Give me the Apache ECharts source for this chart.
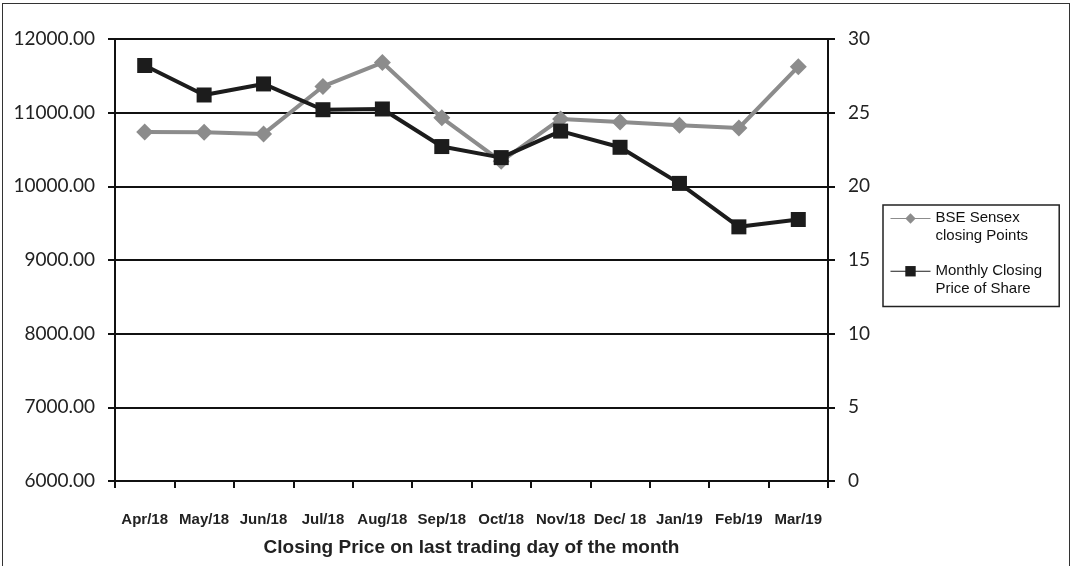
<!DOCTYPE html>
<html>
<head>
<meta charset="utf-8">
<script src="https://cdn.jsdelivr.net/npm/echarts@6/dist/echarts.min.js"></script>
<style>
html,body{margin:0;padding:0;background:#fff;}
#frame{position:absolute;left:2px;top:3px;width:1068px;height:600px;border:1.5px solid #333;box-sizing:border-box;}
#chart{position:absolute;left:0;top:0;width:1075px;height:566px;}
</style>
</head>
<body>
<div id="frame"></div>
<div id="chart"></div>
<script>
const months = ['Apr/18','May/18','Jun/18','Jul/18','Aug/18','Sep/18','Oct/18','Nov/18','Dec/ 18','Jan/19','Feb/19','Mar/19'];
const sensex = [10737, 10735, 10712, 11356, 11680, 10930, 10340, 10915, 10872, 10830, 10792, 11625];
const sharePrice = [28.2, 26.2, 26.95, 25.2, 25.25, 22.7, 21.95, 23.75, 22.65, 20.2, 17.25, 17.75];
const leftTicks = {min: 6000, max: 12000, interval: 1000};
const rightTicks = {min: 0, max: 30, interval: 5};
const sensexName = 'BSE Sensex closing Points';
const shareName = 'Monthly Closing Price of Share';
const legendLines = {};
legendLines[sensexName] = ['BSE Sensex', 'closing Points'];
legendLines[shareName] = ['Monthly Closing', 'Price of Share'];

const chart = echarts.init(document.getElementById('chart'));
chart.setOption({
  animation: false,
  backgroundColor: 'transparent',
  grid: {left: 115, right: 247, top: 39, bottom: 85},
  legend: {
    orient: 'vertical',
    left: 883, top: 205,
    padding: [-12.5, 17, 10.5, 7],
    borderColor: '#222', borderWidth: 1.5,
    itemWidth: 40, itemHeight: 13, itemGap: 2,
    lineStyle: {width: 1},
    textStyle: {
      fontFamily: 'Liberation Sans, Arial', fontSize: 15, color: '#111',
      rich: {
        e: {fontSize: 15, lineHeight: 17, height: 17},
        t: {fontFamily: 'Liberation Sans, Arial', fontSize: 15, color: '#111', lineHeight: 17.5}
      }
    },
    formatter: function (n) {
      const l = legendLines[n];
      return '{e| }\n{t|' + l[0] + '}\n{t|' + l[1] + '}';
    },
    data: [sensexName, shareName]
  },
  xAxis: {
    type: 'category',
    data: months,
    boundaryGap: true,
    axisLine: {lineStyle: {color: '#111', width: 2}},
    axisTick: {show: true, length: 7, lineStyle: {color: '#111', width: 2}},
    axisLabel: {margin: 31, fontFamily: 'Liberation Sans, Arial', fontWeight: 'bold', fontSize: 15, color: '#222', interval: 0},
    name: 'Closing Price on last trading day of the month',
    nameLocation: 'middle',
    nameGap: 57,
    nameTextStyle: {fontFamily: 'Liberation Sans, Arial', fontWeight: 'bold', fontSize: 19, color: '#222'}
  },
  yAxis: [
    {
      type: 'value', position: 'left',
      min: leftTicks.min, max: leftTicks.max, interval: leftTicks.interval,
      axisLine: {show: true, lineStyle: {color: '#111', width: 2}},
      axisTick: {show: true, length: 7, lineStyle: {color: '#111', width: 2}},
      axisLabel: {margin: 20, fontFamily: 'Lato, Carlito, sans-serif', fontSize: 19, color: '#222',
        formatter: v => v.toFixed(2)},
      splitLine: {show: true, lineStyle: {color: '#111', width: 2}}
    },
    {
      type: 'value', position: 'right',
      min: rightTicks.min, max: rightTicks.max, interval: rightTicks.interval,
      axisLine: {show: true, lineStyle: {color: '#111', width: 2}},
      axisTick: {show: true, length: 7, lineStyle: {color: '#111', width: 2}},
      axisLabel: {margin: 20, fontFamily: 'Lato, Carlito, sans-serif', fontSize: 19, color: '#222'},
      splitLine: {show: false}
    }
  ],
  series: [
    {
      name: sensexName, type: 'line', yAxisIndex: 0, data: sensex,
      symbol: 'diamond', symbolSize: 17,
      lineStyle: {color: '#8c8c8c', width: 4},
      itemStyle: {color: '#8c8c8c'},
      z: 2
    },
    {
      name: shareName, type: 'line', yAxisIndex: 1, data: sharePrice,
      symbol: 'rect', symbolSize: 15,
      lineStyle: {color: '#1c1c1c', width: 4},
      itemStyle: {color: '#1c1c1c'},
      z: 3
    }
  ]
});
</script>
</body>
</html>
